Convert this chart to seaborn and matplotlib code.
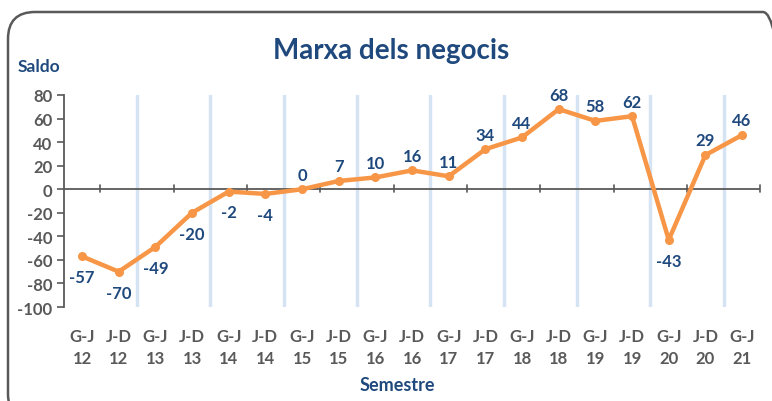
import matplotlib
matplotlib.use("Agg")
import matplotlib.pyplot as plt
from matplotlib.patches import FancyBboxPatch
import seaborn as sns
import pandas as pd

semesters = ["G-J\n12", "J-D\n12", "G-J\n13", "J-D\n13", "G-J\n14", "J-D\n14",
             "G-J\n15", "J-D\n15", "G-J\n16", "J-D\n16", "G-J\n17", "J-D\n17",
             "G-J\n18", "J-D\n18", "G-J\n19", "J-D\n19", "G-J\n20", "J-D\n20",
             "G-J\n21"]
saldo = [-57, -70, -49, -20, -2, -4, 0, 7, 10, 16, 11, 34, 44, 68, 58, 62, -43, 29, 46]
y_ticks = [-100, -80, -60, -40, -20, 0, 20, 40, 60, 80]

title_text = "Marxa dels negocis"
ylabel_text = "Saldo"
xlabel_text = "Semestre"

sns.set_theme(style="white")
plt.rcParams["font.family"] = ["Lato", "DejaVu Sans"]

BLUE = "#1F497D"
GRAY = "#595959"
ORANGE = "#F79646"
GRID = "#D6E3F3"

df = pd.DataFrame({"x": list(range(len(semesters))), "saldo": saldo})

fig = plt.figure(figsize=(7.72, 4.02), dpi=100)
fig.patch.set_facecolor("white")
ax = fig.add_axes([0.0825, 0.2338, 0.9025, 0.5274])

n = len(semesters)
# year-boundary light blue vertical lines
for k in range(2, n, 2):
    ax.axvline(k - 0.5, color=GRID, lw=2.5, zorder=0)

sns.lineplot(data=df, x="x", y="saldo", ax=ax, color=ORANGE, lw=3.2,
             marker="o", markersize=6.5, markeredgewidth=0, zorder=3)
ax.set_xlabel("")
ax.set_ylabel("")

ax.set_xlim(-0.5, n - 0.5)
ax.set_ylim(-100, 80)
ax.set_yticks(y_ticks)
ax.set_yticklabels([str(v) for v in y_ticks], fontsize=12, fontweight="bold", color=GRAY)
ax.set_xticks(range(n))
ax.set_xticklabels([])
ax.tick_params(axis="y", which="major", left=True, direction="out", length=5,
               width=1.2, color=GRAY, pad=3)
ax.tick_params(axis="x", which="major", bottom=False, length=0)

for s in ["top", "right", "bottom"]:
    ax.spines[s].set_visible(False)
ax.spines["left"].set_color(GRAY)
ax.spines["left"].set_linewidth(1.3)

# zero axis with boundary ticks
ax.axhline(0, color=GRAY, lw=1.3, zorder=2)
for k in range(1, n + 1, 2):
    ax.plot([k - 0.5, k - 0.5], [-2.2, 3.5], color=GRAY, lw=1.2, zorder=2,
            clip_on=False)

# category labels below plot area
for i, lab in enumerate(semesters):
    ax.annotate(lab, xy=(i, -100), xytext=(0, -15), textcoords="offset points",
                ha="center", va="top", fontsize=12, fontweight="bold",
                color=GRAY, linespacing=1.45, annotation_clip=False)

# data labels
for i, v in enumerate(saldo):
    dy = 10.5 if v >= 0 else -15
    ax.annotate(str(v), xy=(i, v), xytext=(0, dy), textcoords="offset points",
                ha="center", va="center", fontsize=12, fontweight="bold",
                color=BLUE, zorder=4)

fig.text(0.506, 0.874, title_text, ha="center", va="center", fontsize=20,
         fontweight="bold", color=BLUE)
fig.text(0.051, 0.833, ylabel_text, ha="center", va="center", fontsize=12.5,
         fontweight="bold", color=BLUE)
fig.text(0.514, 0.04, xlabel_text, ha="center", va="center", fontsize=13,
         fontweight="bold", color=BLUE)

border = FancyBboxPatch((8 / 772, -20 / 402), 782 / 772, 409 / 402,
                        boxstyle="round,pad=0,rounding_size=0.035",
                        transform=fig.transFigure, fill=False,
                        edgecolor=GRAY, lw=1.8, mutation_aspect=772 / 402)
fig.patches.append(border)

fig.savefig("out.png", dpi=100)
